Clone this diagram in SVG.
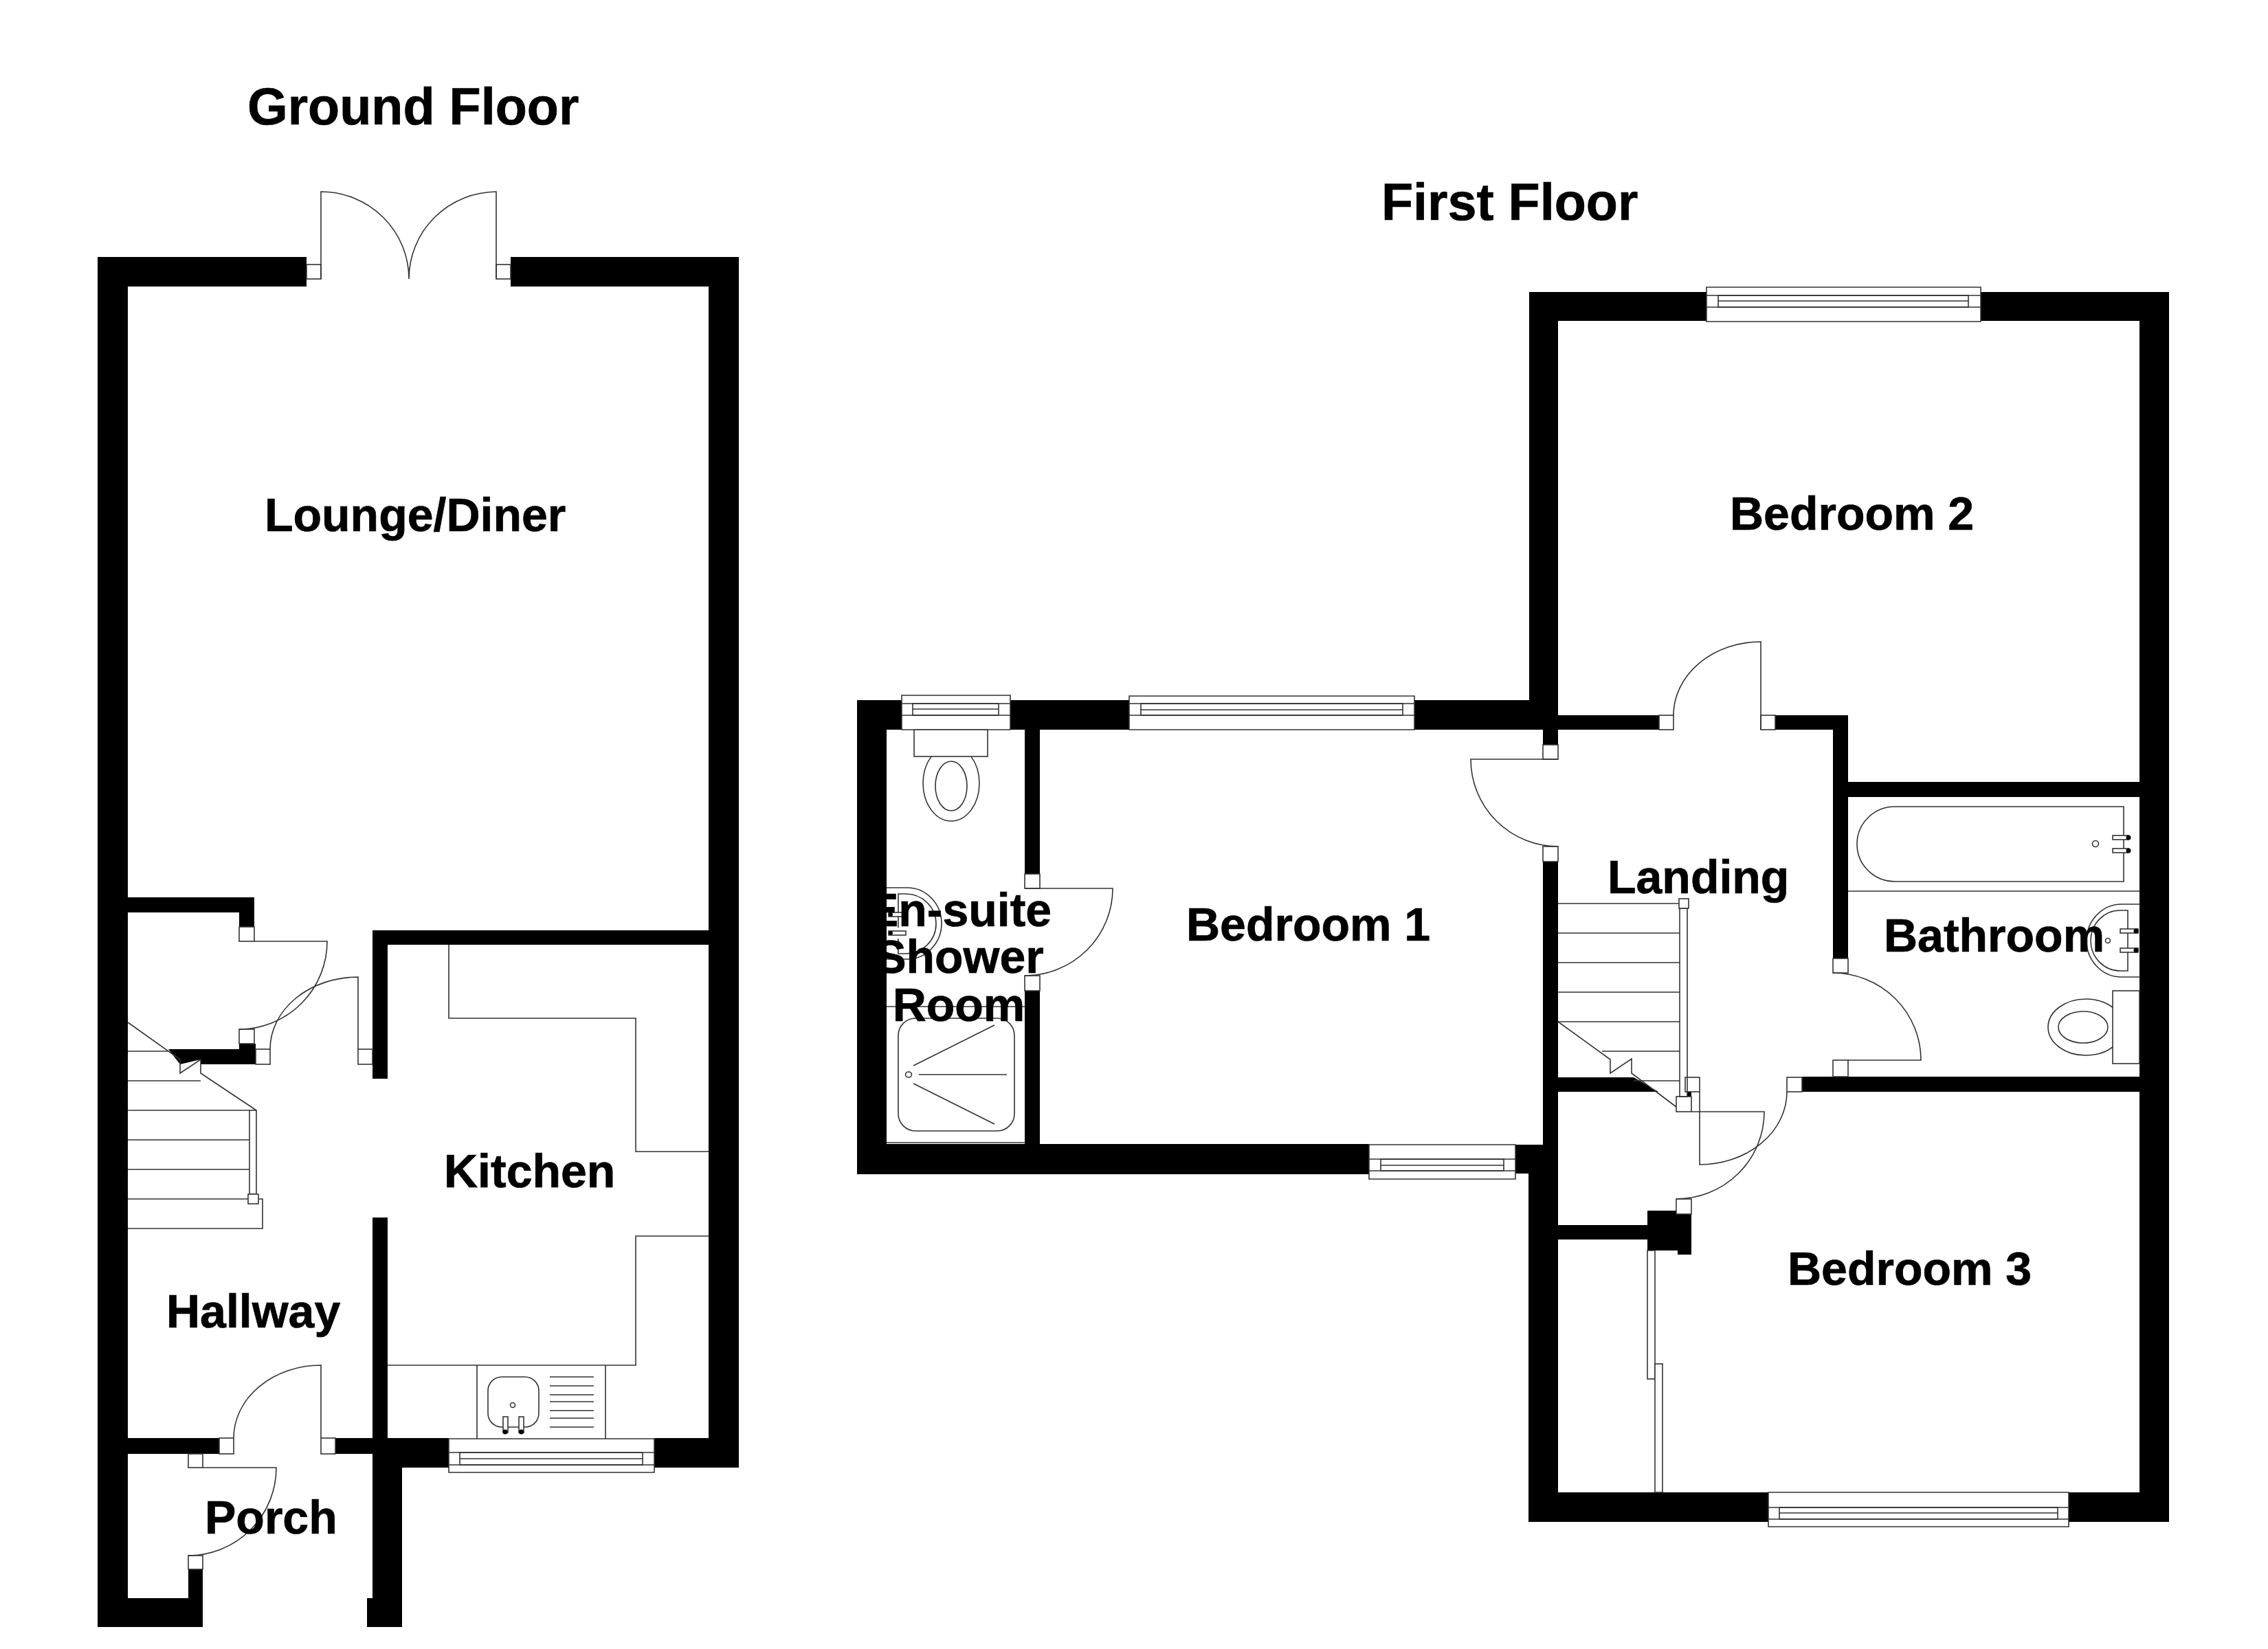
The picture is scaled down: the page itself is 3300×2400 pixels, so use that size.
<svg xmlns="http://www.w3.org/2000/svg" width="3300" height="2400" viewBox="0 0 3300 2400">
<style>
.w{fill:#000;stroke:none}
.l{fill:none;stroke:#333;stroke-width:1.6}
.f{fill:#fff;stroke:#333;stroke-width:1.6}
.b{fill:#000;stroke:none}
text{font-family:"Liberation Sans",Arial,sans-serif;font-weight:700;fill:#000;stroke:#000;stroke-width:.7;font-size:68px}
.h{font-size:75.500px}
</style>
<rect width="3300" height="2400" fill="#fff"/>
<g id="ground-floor">
<g id="ground-walls">
<rect class="w" x="142" y="374" width="304" height="43"/>
<rect class="w" x="743" y="374" width="332" height="43"/>
<rect class="w" x="142" y="374" width="44" height="1994"/>
<rect class="w" x="1031" y="374" width="44" height="1762"/>
<path class="w" d="M186 1306H370V1349H348V1328H186Z"/>
<rect class="w" x="348" y="1519" width="24" height="8"/>
<path class="w" d="M245 1527H372V1549H292V1542L262 1549Z"/>
<path class="w" d="M542 1354H1031V1375H564V1570H542Z"/>
<rect class="w" x="542" y="1772" width="22" height="321"/>
<rect class="w" x="186" y="2093" width="133" height="23"/>
<rect class="w" x="488" y="2093" width="54" height="23"/>
<rect class="w" x="542" y="2093" width="111" height="43"/>
<rect class="w" x="952" y="2093" width="79" height="43"/>
<path class="w" d="M542 2136H585V2368H534V2326H542Z"/>
<rect class="w" x="142" y="2326" width="153" height="42"/>
<rect class="w" x="274" y="2284" width="21" height="84"/>
</g>
<g id="ground-doors">
<rect class="f" x="446" y="385" width="21" height="21"/>
<rect class="f" x="722" y="385" width="21" height="21"/>
<path class="l" d="M467 406V279A128 127 0 0 1 595 406A128 127 0 0 1 722 279V406"/>
<rect class="f" x="348" y="1349" width="22" height="21"/>
<rect class="f" x="348" y="1498" width="22" height="21"/>
<path class="l" d="M370 1370H476A128 128 0 0 1 348 1498"/>
<rect class="f" x="372" y="1527" width="21" height="22"/>
<rect class="f" x="521" y="1527" width="21" height="22"/>
<path class="l" d="M393 1527A128 105 0 0 1 521 1422V1527"/>
<rect class="f" x="319" y="2093" width="21" height="23"/>
<rect class="f" x="467" y="2093" width="21" height="23"/>
<path class="l" d="M340 2093A127 106 0 0 1 467 1987V2093"/>
<rect class="f" x="274" y="2116" width="21" height="20"/>
<rect class="f" x="274" y="2264" width="21" height="20"/>
<path class="l" d="M295 2136H402A128 128 0 0 1 274 2264"/>
</g>
<g id="ground-stairs">
<path class="l" d="M186 1530H245M186 1573H292M186 1616H363M186 1659H363M186 1702H363M186 1745H382V1788H186"/>
<path class="l" d="M186 1488L262 1542V1562L292 1542V1562L373 1616"/>
<rect class="f" x="363" y="1616" width="10" height="122"/>
<rect class="f" x="361" y="1738" width="15" height="14"/>
</g>
<g id="kitchen-fittings">
<path class="l" d="M653 1375V1482H925V1676H1031M1031 1799H925V1987H564"/>
<path class="l" d="M694 1987V2094M881 1987V2094"/>
<rect class="l" x="710" y="2004" width="74" height="73" rx="20"/>
<circle class="l" cx="746" cy="2045" r="3.500"/>
<rect class="f" x="732" y="2062" width="7" height="23"/>
<rect class="f" x="755" y="2062" width="7" height="23"/>
<circle class="b" cx="735" cy="2084" r="3.500"/>
<circle class="b" cx="758.500" cy="2084" r="3.500"/>
<path class="l" d="M800 2004H864M800 2017H864M800 2030H864M800 2040H864M800 2053H864M800 2064H864M800 2077H864"/>
<path class="f" d="M653 2094H952V2143H653Z"/>
<path class="l" d="M653 2114H952M653 2132H952"/>
<rect class="l" x="669" y="2114" width="266" height="18"/>
<path class="l" d="M669 2123H935"/>
</g>
<text class="h" x="360" y="181">Ground Floor</text>
<text x="385" y="773">Lounge/Diner</text>
<text x="646" y="1728">Kitchen</text>
<text x="242" y="1932">Hallway</text>
<text x="298" y="2232">Porch</text>
</g>
<g id="first-floor">
<g id="first-walls">
<rect class="w" x="1247" y="1019" width="65" height="43"/>
<rect class="w" x="1470" y="1019" width="173" height="43"/>
<rect class="w" x="2058" y="1019" width="209" height="43"/>
<rect class="w" x="1247" y="1019" width="43" height="690"/>
<rect class="w" x="1247" y="1665" width="745" height="44"/>
<rect class="w" x="2205" y="1666" width="62" height="42"/>
<rect class="w" x="1491" y="1062" width="22" height="210"/>
<rect class="w" x="1491" y="1442" width="22" height="223"/>
<rect class="w" x="2225" y="425" width="42" height="637"/>
<rect class="w" x="2225" y="425" width="259" height="42"/>
<rect class="w" x="2882" y="425" width="274" height="42"/>
<rect class="w" x="3113" y="425" width="43" height="1790"/>
<rect class="w" x="2267" y="1041" width="147" height="21"/>
<rect class="w" x="2583" y="1041" width="106" height="21"/>
<rect class="w" x="2667" y="1041" width="22" height="354"/>
<rect class="w" x="2689" y="1138" width="424" height="22"/>
<rect class="w" x="2245" y="1062" width="22" height="22"/>
<rect class="w" x="2245" y="1254" width="22" height="412"/>
<rect class="w" x="2224" y="1708" width="43" height="507"/>
<path class="w" d="M2267 1568H2377L2413 1589H2267Z"/>
<rect class="w" x="2622" y="1567" width="491" height="22"/>
<rect class="w" x="2224" y="2172" width="349" height="43"/>
<rect class="w" x="3010" y="2172" width="103" height="43"/>
<rect class="w" x="2267" y="1783" width="130" height="21"/>
<path class="w" d="M2397 1762H2439V1767H2461V1826H2441V1820H2397Z"/>
<rect class="w" x="2455" y="1589" width="6" height="8"/>
</g>
<g id="first-doors">
<rect class="f" x="1491" y="1272" width="22" height="21"/>
<rect class="f" x="1491" y="1420" width="22" height="22"/>
<path class="l" d="M1491 1293H1619A128 127 0 0 1 1491 1420"/>
<rect class="f" x="2245" y="1084" width="22" height="21"/>
<rect class="f" x="2245" y="1232" width="22" height="22"/>
<path class="l" d="M2267 1105H2140A127 127 0 0 0 2267 1232"/>
<rect class="f" x="2414" y="1041" width="21" height="21"/>
<rect class="f" x="2562" y="1041" width="21" height="21"/>
<path class="l" d="M2435 1041A127 107 0 0 1 2562 934V1062"/>
<rect class="f" x="2667" y="1395" width="22" height="21"/>
<rect class="f" x="2667" y="1543" width="22" height="24"/>
<path class="l" d="M2667 1416A128 127 0 0 1 2795 1543H2689"/>
<rect class="f" x="2600" y="1568" width="22" height="21"/>
<rect class="f" x="2452" y="1568" width="21" height="21"/>
<path class="l" d="M2600 1589A127 106 0 0 1 2473 1695V1589"/>
<rect class="f" x="2439" y="1596" width="22" height="22"/>
<rect class="f" x="2439" y="1745" width="22" height="22"/>
<path class="l" d="M2461 1618H2567A128 127 0 0 1 2439 1745"/>
<rect class="f" x="2397" y="1820" width="11" height="187"/>
<rect class="f" x="2408" y="1985" width="11" height="187"/>
</g>
<g id="first-stairs">
<path class="l" d="M2267 1315H2444M2267 1358H2444M2267 1401H2444M2267 1444H2444M2267 1487H2444M2331 1530H2444M2377 1573H2444"/>
<path class="l" d="M2267 1487L2343 1542V1562L2374 1541V1562L2439 1611"/>
<rect class="l" x="2444" y="1322" width="11" height="274"/>
<rect class="f" x="2443" y="1308" width="14" height="14"/>
</g>
<g id="windows">
<path class="f" d="M1312 1012H1470V1062H1312Z"/>
<path class="l" d="M1312 1024H1470M1312 1041H1470"/>
<rect class="l" x="1328" y="1024" width="125" height="17"/>
<path class="l" d="M1328 1032H1453"/>
<path class="f" d="M1643 1013H2058V1062H1643Z"/>
<path class="l" d="M1643 1024H2058M1643 1041H2058"/>
<rect class="l" x="1660" y="1024" width="381" height="17"/>
<path class="l" d="M1660 1033H2041"/>
<path class="f" d="M1992 1666H2205V1716H1992Z"/>
<path class="l" d="M1992 1687H2205M1992 1704H2205"/>
<rect class="l" x="2009" y="1687" width="179" height="17"/>
<path class="l" d="M2009 1696H2188"/>
<path class="f" d="M2483 418H2882V468H2483Z"/>
<path class="l" d="M2483 430H2882M2483 447H2882"/>
<rect class="l" x="2500" y="430" width="364" height="17"/>
<path class="l" d="M2500 438H2864"/>
<path class="f" d="M2573 2172H3010V2222H2573Z"/>
<path class="l" d="M2573 2194H3010M2573 2211H3010"/>
<rect class="l" x="2589" y="2194" width="405" height="17"/>
<path class="l" d="M2589 2202H2994"/>
</g>
<g id="ensuite-fittings">
<ellipse class="l" cx="1384" cy="1140" rx="41" ry="55"/>
<rect class="f" x="1330" y="1062" width="107" height="39"/>
<ellipse class="l" cx="1384" cy="1144" rx="23" ry="36"/>
<path class="l" d="M1290 1292H1320A50 52 0 0 1 1320 1396H1290"/>
<path class="l" d="M1307 1350V1301H1318A44 43.500 0 0 1 1318 1388H1307V1366"/>
<rect class="f" x="1293" y="1328" width="25" height="6"/>
<rect class="f" x="1293" y="1355" width="25" height="6"/>
<circle class="b" cx="1296" cy="1331" r="3"/>
<circle class="b" cx="1296" cy="1358" r="3"/>
<path class="l" d="M1290 1465H1492M1290 1663H1492"/>
<rect class="l" x="1307" y="1482" width="169" height="164" rx="25"/>
<path class="l" d="M1447 1492L1329 1551M1329 1577L1447 1636M1337 1564H1465"/>
<ellipse class="l" cx="1322" cy="1564" rx="4.500" ry="4"/>
</g>
<g id="bathroom-fittings">
<path class="l" d="M3090 1174H2757A55 54.500 0 0 0 2757 1283H3090Z"/>
<path class="l" d="M2689 1297H3113"/>
<circle class="l" cx="3049" cy="1228" r="4.500"/>
<rect class="f" x="3074" y="1216" width="23" height="6"/>
<rect class="f" x="3074" y="1235" width="23" height="6"/>
<circle class="b" cx="3097" cy="1219" r="3.500"/>
<circle class="b" cx="3097" cy="1238" r="3.500"/>
<path class="l" d="M3113 1316H3087A51 53 0 0 0 3087 1422H3113"/>
<path class="l" d="M3096 1325H3085A43 44 0 0 0 3085 1413H3096Z"/>
<circle class="l" cx="3067" cy="1369" r="3.500"/>
<rect class="f" x="3085" y="1352" width="26" height="6"/>
<rect class="f" x="3085" y="1380" width="26" height="6"/>
<circle class="b" cx="3108" cy="1355" r="3.500"/>
<circle class="b" cx="3108" cy="1383" r="3.500"/>
<ellipse class="l" cx="3035" cy="1495" rx="55" ry="41"/>
<rect class="f" x="3074" y="1442" width="39" height="106"/>
<ellipse class="l" cx="3031" cy="1495" rx="36" ry="23"/>
</g>
<text class="h" x="2010" y="320">First Floor</text>
<text x="2517" y="771">Bedroom 2</text>
<text x="1726" y="1369">Bedroom 1</text>
<text x="2339" y="1300">Landing</text>
<text x="2741" y="1385">Bathroom</text>
<text x="2601" y="1870">Bedroom 3</text>
<text x="1396" y="1348" text-anchor="middle">En-suite</text>
<text x="1396" y="1416" text-anchor="middle">Shower</text>
<text x="1395" y="1486" text-anchor="middle">Room</text>
</g>
</svg>
